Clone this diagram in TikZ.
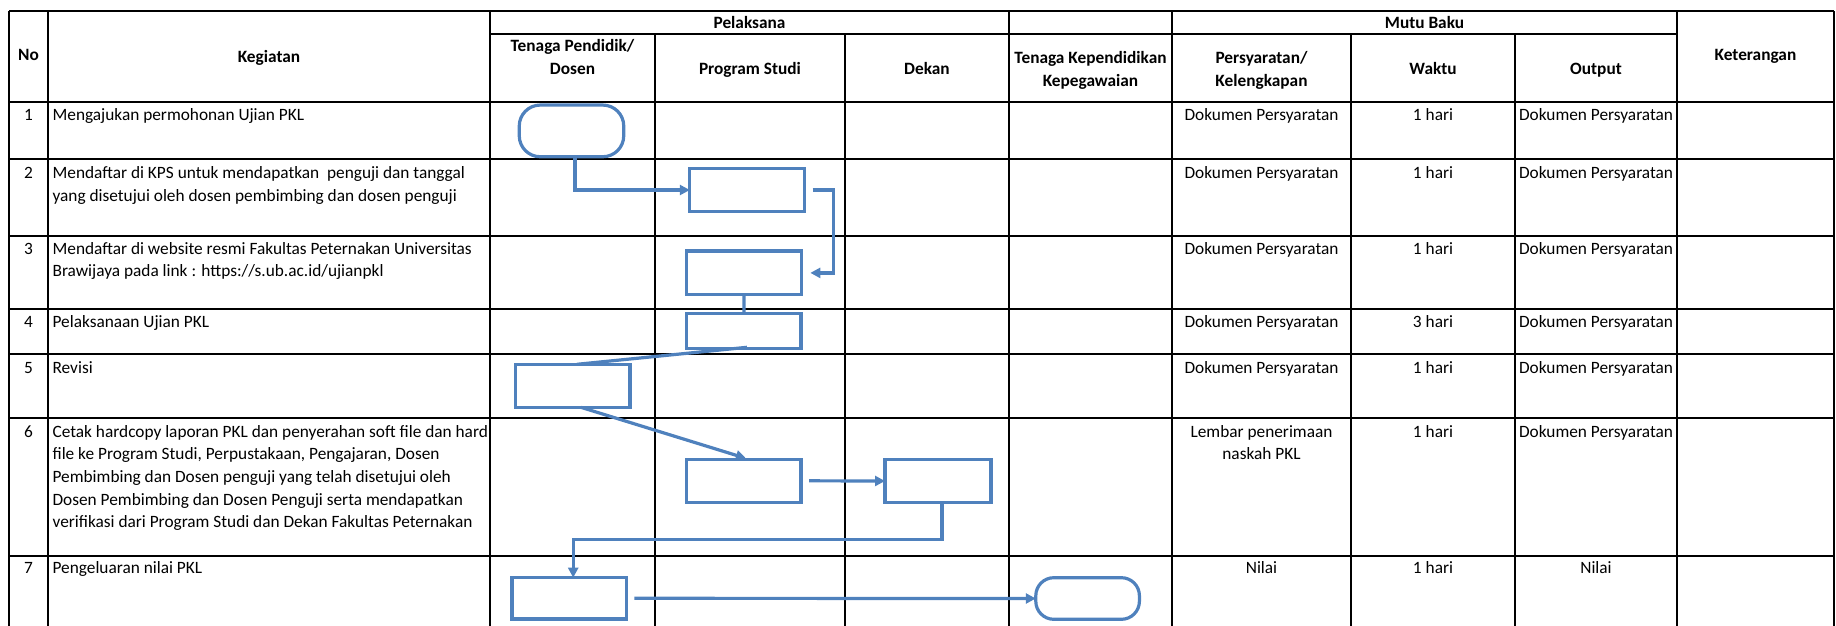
\documentclass[tikz,border=0pt]{standalone}
\usepackage{fontspec}
\setmainfont{Carlito}
\usetikzlibrary{arrows.meta,calc}
\definecolor{flowblue}{HTML}{4F81BD}
\begin{document}
\begin{tikzpicture}[x=1pt,y=-1pt,
  grid/.style={line width=2.4pt,black},
  flow/.style={draw=flowblue,line width=3.2pt},
  pbox/.style={flow,rectangle,inner sep=0pt,outer sep=0pt},
  term/.style={flow,rectangle,rounded corners=21pt,inner sep=0pt,outer sep=0pt},
  arr/.style={draw=flowblue,line width=3.2pt,-{Triangle[length=10pt,width=10pt]}},
  lnk/.style={draw=flowblue,line width=3.2pt},
  txt/.style={inner sep=0pt,outer sep=0pt,font=\fontsize{17.3}{22.7}\selectfont},
  lt/.style={txt,anchor=base west,align=left},
  ct/.style={txt,anchor=base,align=center},
  hd/.style={txt,anchor=base,align=center,font=\fontsize{17.3}{22.7}\selectfont\bfseries}]
\useasboundingbox (0,0) rectangle (1836,626);
% ---------- table grid ----------
\draw[grid] (9,11) -- (1834,11);
\draw[grid] (490,34) -- (1677,34);
\foreach \r in {102,159,236,309,354,418,556} \draw[grid] (9,\r) -- (1834,\r);
\foreach \c in {9,48,490,1009,1172,1677,1834} \draw[grid] (\c,11) -- (\c,626);
\foreach \c in {655,845,1351,1515} \draw[grid] (\c,34) -- (\c,626);
% ---------- header (base anchor = last line) ----------
\node[hd] (hNo) at (28.5,61) {No};
\node[hd] (hKeg) at (269,62.3) {Kegiatan};
\node[hd] (hPel) at (749.5,29) {Pelaksana};
\node[hd] (hTP) at (572.5,74.5) {Tenaga Pendidik/\\Dosen};
\node[hd] (hPS) at (750,74.5) {Program Studi};
\node[hd] (hDek) at (927,74.5) {Dekan};
\node[hd] (hTK) at (1090.5,86) {Tenaga Kependidikan\\Kepegawaian};
\node[hd] (hMB) at (1424.5,29) {Mutu Baku};
\node[hd] (hPer) at (1261.5,86) {Persyaratan/\\Kelengkapan};
\node[hd] (hWak) at (1433,74.5) {Waktu};
\node[hd] (hOut) at (1596,74.5) {Output};
\node[hd] (hKet) at (1755.5,61) {Keterangan};
% ---------- rows ----------
\foreach \n/\y in {1/120.5,2/178.5,3/254,4/327.5,5/373,6/437,7/573.5}{
  \node[ct] (no\n) at (28.5,\y) {\n};
}
\node[lt] (k1) at (52.6,120.5) {Mengajukan permohonan Ujian PKL};
\node[lt] (k2) at (52.6,201.2) {Mendaftar di KPS untuk mendapatkan\ \ penguji dan tanggal\\yang disetujui oleh dosen pembimbing dan dosen penguji};
\node[lt] (k3) at (52.6,276.7) {Mendaftar di website resmi Fakultas Peternakan Universitas\\Brawijaya pada link : https://s.ub.ac.id/ujianpkl};
\node[lt] (k4) at (52.6,327.5) {Pelaksanaan Ujian PKL};
\node[lt] (k5) at (52.6,373) {Revisi};
\node[lt] (k6) at (52.6,527.8) {Cetak hardcopy laporan PKL dan penyerahan soft file dan hard\\file ke Program Studi, Perpustakaan, Pengajaran, Dosen\\Pembimbing dan Dosen penguji yang telah disetujui oleh\\Dosen Pembimbing dan Dosen Penguji serta mendapatkan\\verifikasi dari Program Studi dan Dekan Fakultas Peternakan};
\node[lt] (k7) at (52.6,573.5) {Pengeluaran nilai PKL};
% right-hand columns
\foreach \i/\y/\w in {1/120.5/1,2/178.5/1,3/254/1,4/327.5/3,5/373/1}{
  \node[ct] (p\i) at (1261.5,\y) {Dokumen Persyaratan};
  \node[ct] (w\i) at (1433,\y) {\w\ hari};
  \node[ct] (o\i) at (1596,\y) {Dokumen Persyaratan};
}
\node[ct] (p6) at (1261.5,459.7) {Lembar penerimaan\\naskah PKL};
\node[ct] (w6) at (1433,437) {1 hari};
\node[ct] (o6) at (1596,437) {Dokumen Persyaratan};
\node[ct] (p7) at (1261.5,573.5) {Nilai};
\node[ct] (w7) at (1433,573.5) {1 hari};
\node[ct] (o7) at (1596,573.5) {Nilai};
% ---------- flow shapes ----------
\node[term,minimum width=104.5pt,minimum height=51.7pt] (t1) at (571.5,130.9) {};
\node[pbox,minimum width=114.8pt,minimum height=43.4pt] (b2) at (747.2,190) {};
\node[pbox,minimum width=114.7pt,minimum height=43.7pt] (b3) at (744,272.9) {};
\node[pbox,minimum width=114.3pt,minimum height=35pt] (b4) at (743.9,330.8) {};
\node[pbox,minimum width=114.3pt,minimum height=43pt] (b5) at (572.9,385.8) {};
\node[pbox,minimum width=114.3pt,minimum height=43pt] (b6) at (743.9,480.8) {};
\node[pbox,minimum width=106pt,minimum height=43.4pt] (b7) at (938,481) {};
\node[pbox,minimum width=114.4pt,minimum height=41.3pt] (b8) at (569.2,598.3) {};
\node[term,rounded corners=18pt,minimum width=103.6pt,minimum height=41.6pt] (t2) at (1087.6,598.5) {};
% ---------- connectors ----------
\draw[arr] ($(t1.south)+(3.5,0)$) |- (b2.west);
\draw[arr,shorten <=8pt,shorten >=9pt] (b2.east) -- ++(29,0) |- (b3.east);
\draw[lnk] (b3.south) -- (b4.north);
\draw[lnk] ($(b4.south)+(3,-1)$) -- ($(b5.north)+(4,0)$);
\draw[arr] ($(b5.south)+(8,0)$) -- ($(b6.north)+(2,-1)$);
\draw[arr,shorten <=8pt] (b6.east) -- (b7.west);
\draw[arr] ($(b7.south)+(4,0)$) -- ++(0,36.6) -| ($(b8.north)+(4,0)$);
\draw[arr,shorten <=8pt] (b8.east) -- (t2.west);
\end{tikzpicture}
\end{document}
